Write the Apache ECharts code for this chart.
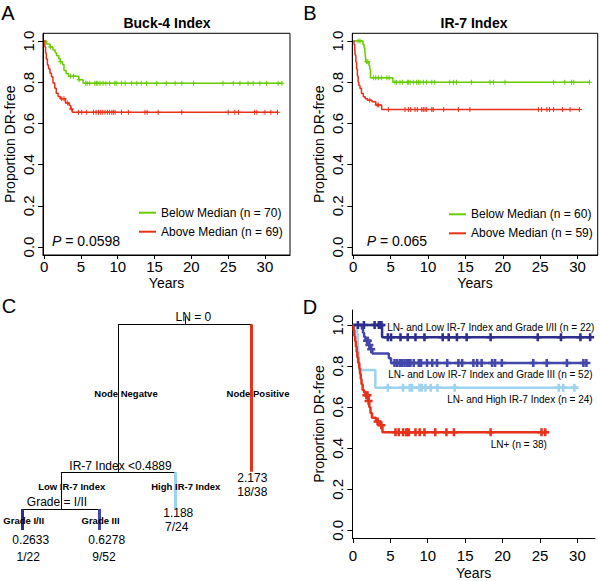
<!DOCTYPE html>
<html><head><meta charset="utf-8">
<script src="https://cdn.jsdelivr.net/npm/echarts@6/dist/echarts.min.js"></script>
<style>html,body{margin:0;padding:0;background:#fff}#c{width:600px;height:581px}</style>
</head><body><div id="c"></div>
<script>
// ---------- data ----------
const xTicks = [0, 5, 10, 15, 20, 25, 30];
const yTicks = [0, 0.2, 0.4, 0.6, 0.8, 1.0];

// Panel A: Buck-4 Index
const aGreenName = 'Below Median (n = 70)';
const aGreenT = [0, 0.35, 0.8, 1.2, 1.5, 1.7, 2.0, 2.2, 2.5, 2.7, 3.0, 3.3, 4.7, 5.3, 32.3];
const aGreenS = [1, 0.986, 0.971, 0.957, 0.943, 0.929, 0.914, 0.900, 0.886, 0.857, 0.843, 0.829, 0.812, 0.795, 0.795];
const aGreenC = [0.85, 2.2, 3.6, 4.0, 4.75, 5.66, 5.85, 6.2, 6.9, 7.1, 7.3, 7.6, 8.0, 8.4, 8.9, 9.6, 9.8, 10.5, 11.0, 11.9, 12.6, 13.2, 13.9, 15.3, 16.6, 17.8, 18.7, 20.3, 24.3, 25.7, 26.6, 27.7, 28.4, 29.3, 30.2, 31.8, 32.3];
const aRedName = 'Above Median (n = 69)';
const aRedT = [0, 0.1, 0.2, 0.3, 0.45, 0.6, 0.8, 1.0, 1.2, 1.45, 1.65, 1.9, 2.2, 2.9, 3.4, 3.6, 3.85, 31.8];
const aRedS = [1, 0.971, 0.942, 0.913, 0.884, 0.866, 0.844, 0.827, 0.797, 0.771, 0.747, 0.731, 0.72, 0.70, 0.689, 0.67, 0.655, 0.655];
const aRedC = [2.4, 2.7, 3.2, 3.7, 4.66, 5.11, 5.79, 6.7, 7.06, 7.38, 7.69, 7.96, 8.28, 8.6, 8.87, 9.19, 9.41, 9.64, 10.5, 11.45, 13.7, 14.0, 15.5, 18.7, 25.0, 25.9, 26.4, 28.6, 28.9, 30.0, 30.8, 31.7];
const aP = '0.0598';

// Panel B: IR-7 Index
const bGreenName = 'Below Median (n = 60)';
const bGreenT = [0, 1.3, 1.45, 1.55, 1.6, 1.65, 1.7, 2.1, 2.2, 2.3, 5.3, 31.6];
const bGreenS = [1, 0.983, 0.967, 0.95, 0.933, 0.917, 0.90, 0.882, 0.865, 0.822, 0.80, 0.80];
const bGreenC = [0.65, 0.9, 1.8, 1.95, 2.7, 3.0, 3.35, 3.8, 4.5, 4.8, 5.58, 5.8, 6.25, 6.6, 7.23, 7.37, 7.6, 8.04, 8.48, 8.7, 8.93, 9.38, 9.8, 10.5, 10.9, 12.9, 13.4, 13.8, 15.8, 18.3, 18.75, 20.3, 26.8, 28.3, 29.2, 29.5, 31.6];
const bRedName = 'Above Median (n = 59)';
const bRedT = [0, 0.1, 0.2, 0.25, 0.35, 0.45, 0.55, 0.65, 0.75, 0.9, 1.1, 1.35, 1.6, 1.9, 2.5, 3.0, 3.8, 30.3];
const bRedS = [1, 0.983, 0.966, 0.932, 0.898, 0.864, 0.83, 0.80, 0.785, 0.77, 0.745, 0.73, 0.72, 0.713, 0.705, 0.69, 0.668, 0.668];
const bRedC = [2.2, 3.2, 3.4, 4.69, 6.92, 7.37, 7.68, 8.26, 8.57, 9.15, 9.37, 9.6, 9.82, 10.5, 10.7, 12.1, 14.06, 15.6, 24.77, 25.2, 25.9, 26.25, 26.8, 28.0, 29.0, 30.25];
const bP = '0.065';

// Panel D: combined groups
const dNavyName = 'LN- and Low IR-7 Index and Grade I/II (n = 22)';
const dNavyT = [0, 3.9, 31.9];
const dNavyS = [1, 0.94, 0.94];
const dNavyC = [0.67, 1.47, 2.9, 3.47, 3.7, 3.82, 4.67, 5.1, 6.36, 7.33, 8.36, 9.56, 12.0, 12.8, 13.9, 15.2, 18.4, 24.7, 27.8, 30.4, 31.7];
const dMidName = 'LN- and Low IR-7 Index and Grade III (n = 52)';
const dMidT = [0, 1.2, 1.35, 1.5, 1.7, 2.1, 2.35, 2.6, 4.8, 5.1, 31.3];
const dMidS = [1, 0.981, 0.962, 0.942, 0.923, 0.903, 0.882, 0.861, 0.838, 0.815, 0.815];
const dMidC = [1.9, 2.0, 2.2, 2.45, 5.56, 5.9, 6.27, 6.58, 6.9, 7.24, 7.47, 7.69, 8.13, 8.8, 9.11, 9.9, 10.6, 11.24, 12.6, 14.1, 14.6, 16.1, 16.6, 17.2, 18.6, 19.0, 19.9, 24.1, 25.9, 28.6, 30.8, 31.2];
const dLightName = 'LN- and High IR-7 Index (n = 24)';
const dLightT = [0, 0.55, 0.65, 0.72, 0.78, 0.85, 3.0, 29.9];
const dLightS = [1, 0.958, 0.917, 0.875, 0.833, 0.781, 0.695, 0.695];
const dLightC = [4.67, 6.7, 7.6, 7.9, 8.9, 9.2, 9.7, 10.4, 11.3, 13.6, 27.5, 28.1, 29.6];
const dRedName = 'LN+ (n = 38)';
const dRedT = [0, 0.1, 0.2, 0.3, 0.4, 0.5, 0.6, 0.7, 0.85, 0.95, 1.05, 1.15, 1.3, 1.5, 1.7, 2.05, 2.2, 2.35, 2.55, 3.1, 3.6, 3.95, 26.0];
const dRedS = [1, 0.974, 0.947, 0.921, 0.895, 0.868, 0.842, 0.816, 0.789, 0.763, 0.737, 0.711, 0.684, 0.671, 0.658, 0.63, 0.60, 0.572, 0.548, 0.53, 0.512, 0.478, 0.478];
const dRedC = [1.8, 1.95, 2.1, 3.3, 3.8, 5.69, 6.13, 6.71, 7.15, 7.24, 7.47, 8.36, 8.93, 9.56, 11.0, 12.5, 13.5, 18.4, 25.2, 25.7];

// Panel C: regression tree (x in leaf-order units, depth in tree units)
const treeNodeIds   = ['root', 'neg', 'pos', 'low', 'high', 'g12', 'g3'];
const treeNodeX     = [3.125, 2.25, 4, 1.5, 3, 1, 2];
const treeNodeDepth = [0, 148, 147.4, 184.7, 185, 205.7, 205.7];
const treeParent    = [null, 'root', 'root', 'neg', 'neg', 'low', 'low'];
const treeLabels = [
  ['LN = 0', 3.236, -7.6, 'split'],
  ['Node Negatve', 2.354, 69, 'branch'],
  ['Node Positive', 4.084, 69, 'branch'],
  ['IR-7 Index <0.4889', 2.282, 141.4, 'split'],
  ['2.173', 4.009, 154, 'split'],
  ['18/38', 4.009, 167.4, 'split'],
  ['Low IR-7 Index', 1.642, 162.4, 'branch'],
  ['High IR-7 Index', 3.138, 162.4, 'branch'],
  ['Grade = I/II', 1.4495, 177.4, 'split'],
  ['1.188', 3.039, 188.4, 'split'],
  ['7/24', 3.018, 202.4, 'split'],
  ['Grade I/II', 1.013, 196.4, 'branch'],
  ['Grade III', 2.02, 196.4, 'branch'],
  ['0.2633', 1.105, 215.7, 'split'],
  ['1/22', 1.073, 232.4, 'split'],
  ['0.6278', 2.101, 215.7, 'split'],
  ['9/52', 2.066, 232.4, 'split']
];

// ---------- styles ----------
const FONT = '"Liberation Sans", Arial, Helvetica, sans-serif';
const GREEN = '#66cc00', RED = '#e8311a', NAVY = '#2d2e8c', MBLUE = '#4447aa', LBLUE = '#9dd3ef';
const PLUS = 'path://M4,0H6V4H10V6H6V10H4V6H0V4H4Z';
const PLUS_B = 'path://M3.4,0H6.6V3.4H10V6.6H6.6V10H3.4V6.6H0V3.4H3.4Z';
const nodeColor = {neg: '#000', pos: RED, low: '#000', high: LBLUE, g12: NAVY, g3: MBLUE};
const nodeWidth = {neg: 1, pos: 3, low: 1, high: 3, g12: 3, g3: 3};

function stepAt(T, S, t) { let v = S[0]; for (let i = 0; i < T.length; i++) if (T[i] <= t) v = S[i]; return v; }

function xAx(g, min, max, margin, gap, tick) {
  return { gridIndex: g, type: 'value', min, max,
    axisLine: { show: true, onZero: false, lineStyle: { color: '#000', width: 1 } },
    axisTick: { show: true, customValues: xTicks, length: tick, lineStyle: { color: '#000' } },
    axisLabel: { customValues: xTicks, fontSize: 15, color: '#000', margin, fontFamily: FONT },
    splitLine: { show: false },
    name: 'Years', nameLocation: 'middle', nameGap: gap,
    nameTextStyle: { fontSize: 14, color: '#000', fontFamily: FONT } };
}
function yAx(g, min, max) {
  return { gridIndex: g, type: 'value', min, max,
    axisLine: { show: true, onZero: false, lineStyle: { color: '#000', width: 1 } },
    axisTick: { show: true, customValues: yTicks, length: 5, lineStyle: { color: '#000' } },
    axisLabel: { customValues: yTicks, fontSize: 15, color: '#000', rotate: 90, margin: 7, fontFamily: FONT,
      formatter: v => v.toFixed(1) },
    splitLine: { show: false },
    name: 'Proportion DR-free', nameLocation: 'middle', nameGap: 26, nameRotate: 90,
    nameTextStyle: { fontSize: 14, color: '#000', fontFamily: FONT } };
}
function km(name, g, T, S, color, w) {
  return { name, type: 'line', xAxisIndex: g, yAxisIndex: g, step: 'end', symbol: 'none', showSymbol: false,
    lineStyle: { color, width: w, opacity: 1 }, itemStyle: { color }, data: T.map((t, i) => [t, S[i]]), z: 3, silent: true };
}
function cens(g, T, S, C, color, size, sym) {
  return { type: 'scatter', xAxisIndex: g, yAxisIndex: g, symbol: sym, symbolSize: size,
    itemStyle: { color, opacity: 1 }, data: C.map(t => [t, stepAt(T, S, t)]), z: 4, silent: true };
}

// tree segments
const treeSegs = [];
treeNodeIds.forEach((id, i) => {
  const p = treeParent[i];
  if (!p) return;
  const pi = treeNodeIds.indexOf(p);
  treeSegs.push({ coords: [[treeNodeX[pi], treeNodeDepth[pi]], [treeNodeX[i], treeNodeDepth[pi]]], lineStyle: { color: '#000', width: 1, opacity: 1 } });
  treeSegs.push({ coords: [[treeNodeX[i], treeNodeDepth[pi]], [treeNodeX[i], treeNodeDepth[i]]], lineStyle: { color: nodeColor[id], width: nodeWidth[id], opacity: 1 } });
});
treeSegs.push({ coords: [[treeNodeX[0], -8], [treeNodeX[0], treeNodeDepth[0]]], lineStyle: { color: '#000', width: 1, opacity: 1 } });

const treeText = treeLabels.map(l => ({ value: [l[1], l[2]],
  label: { show: true, position: 'inside', formatter: l[0], color: '#000', opacity: 1, fontFamily: FONT,
    fontSize: l[3] === 'branch' ? 9.5 : 12, fontWeight: l[3] === 'branch' ? 'bold' : 'normal' } }));

const legendBase = { orient: 'vertical', icon: 'rect', itemWidth: 17, itemHeight: 2, selectedMode: false,
  textStyle: { fontSize: 12, color: '#000', fontFamily: FONT, lineHeight: 14 } };

const chart = echarts.init(document.getElementById('c'), null, { renderer: 'svg' });
chart.setOption({
  animation: false,
  backgroundColor: '#fff',
  textStyle: { fontFamily: FONT },
  grid: [
    { left: 43, top: 33.3, width: 247, height: 221.7, show: true, borderColor: '#000', borderWidth: 1, backgroundColor: 'transparent' },
    { left: 352.3, top: 33.3, width: 245.4, height: 221.7, show: true, borderColor: '#000', borderWidth: 1, backgroundColor: 'transparent' },
    { left: 352.3, top: 310, width: 242.7, height: 228.3, show: false },
    { left: 0, top: 290, width: 300, height: 291, show: false }
  ],
  xAxis: [
    xAx(0, -0.15, 33.4, 4, 21, 4),
    xAx(1, -0.13, 32.7, 4, 21, 4),
    xAx(2, -0.08, 32.35, 10, 28, 5),
    { gridIndex: 3, type: 'value', min: 0.7025, max: 4.6343, show: false }
  ],
  yAxis: [
    yAx(0, -0.039, 1.038),
    yAx(1, -0.039, 1.038),
    yAx(2, -0.037, 1.073),
    { gridIndex: 3, type: 'value', min: -34.3, max: 256.7, inverse: true, show: false }
  ],
  legend: [
    Object.assign({ data: [aGreenName, aRedName], left: 134, top: 200.7, itemGap: 5 }, legendBase),
    Object.assign({ data: [bGreenName, bRedName], left: 444, top: 202.3, itemGap: 5 }, legendBase)
  ],
  graphic: [
    { type: 'text', x: 8, y: 12.5, style: { text: 'A', font: '20px ' + FONT, fill: '#000', textAlign: 'center', textVerticalAlign: 'middle' } },
    { type: 'text', x: 310, y: 12.5, style: { text: 'B', font: '20px ' + FONT, fill: '#000', textAlign: 'center', textVerticalAlign: 'middle' } },
    { type: 'text', x: 9, y: 305.5, style: { text: 'C', font: '20px ' + FONT, fill: '#000', textAlign: 'center', textVerticalAlign: 'middle' } },
    { type: 'text', x: 310, y: 306.5, style: { text: 'D', font: '20px ' + FONT, fill: '#000', textAlign: 'center', textVerticalAlign: 'middle' } },
    { type: 'text', x: 167, y: 22.5, style: { text: 'Buck-4 Index', font: 'bold 14px ' + FONT, fill: '#000', textAlign: 'center', textVerticalAlign: 'middle' } },
    { type: 'text', x: 474, y: 22.5, style: { text: 'IR-7 Index', font: 'bold 14px ' + FONT, fill: '#000', textAlign: 'center', textVerticalAlign: 'middle' } },
    { type: 'text', x: 52, y: 240.7, style: { text: '{i|P} = ' + aP, font: '14px ' + FONT, fill: '#000', textVerticalAlign: 'middle',
      rich: { i: { fontStyle: 'italic', fontSize: 14, fontFamily: FONT } } } },
    { type: 'text', x: 366.7, y: 240.7, style: { text: '{i|P} = ' + bP, font: '14px ' + FONT, fill: '#000', textVerticalAlign: 'middle',
      rich: { i: { fontStyle: 'italic', fontSize: 14, fontFamily: FONT } } } },
    { type: 'text', x: 387.3, y: 327.7, style: { text: dNavyName, font: '10px ' + FONT, fill: '#000', textVerticalAlign: 'middle' } },
    { type: 'text', x: 388.3, y: 374.3, style: { text: dMidName, font: '10px ' + FONT, fill: '#000', textVerticalAlign: 'middle' } },
    { type: 'text', x: 447.3, y: 399, style: { text: dLightName, font: '10px ' + FONT, fill: '#000', textVerticalAlign: 'middle' } },
    { type: 'text', x: 490.7, y: 444.3, style: { text: dRedName, font: '10px ' + FONT, fill: '#000', textVerticalAlign: 'middle' } }
  ],
  series: [
    km(aGreenName, 0, aGreenT, aGreenS, GREEN, 1.5),
    km(aRedName, 0, aRedT, aRedS, RED, 1.5),
    cens(0, aGreenT, aGreenS, aGreenC, GREEN, 5, PLUS),
    cens(0, aRedT, aRedS, aRedC, RED, 5, PLUS),
    km(bGreenName, 1, bGreenT, bGreenS, GREEN, 1.5),
    km(bRedName, 1, bRedT, bRedS, RED, 1.5),
    cens(1, bGreenT, bGreenS, bGreenC, GREEN, 5, PLUS),
    cens(1, bRedT, bRedS, bRedC, RED, 5, PLUS),
    km(dNavyName, 2, dNavyT, dNavyS, NAVY, 2.5),
    km(dMidName, 2, dMidT, dMidS, MBLUE, 2.5),
    km(dLightName, 2, dLightT, dLightS, LBLUE, 2.5),
    km(dRedName, 2, dRedT, dRedS, RED, 2.5),
    cens(2, dNavyT, dNavyS, dNavyC, NAVY, 8, PLUS_B),
    cens(2, dMidT, dMidS, dMidC, MBLUE, 8, PLUS_B),
    cens(2, dLightT, dLightS, dLightC, LBLUE, 8, PLUS_B),
    cens(2, dRedT, dRedS, dRedC, RED, 8, PLUS_B),
    { type: 'lines', coordinateSystem: 'cartesian2d', xAxisIndex: 3, yAxisIndex: 3, polyline: false, silent: true,
      lineStyle: { opacity: 1 }, data: treeSegs, z: 2 },
    { type: 'scatter', xAxisIndex: 3, yAxisIndex: 3, symbolSize: 0, silent: true, itemStyle: { opacity: 1 }, data: treeText, z: 5 }
  ]
});
</script></body></html>
